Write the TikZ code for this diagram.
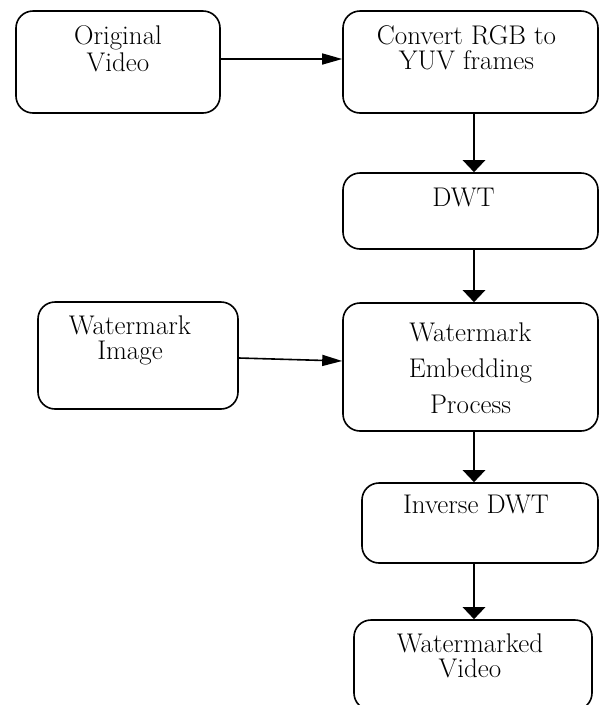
\documentclass[tikz,border=0pt]{standalone}
\usepackage{fontspec}
\usepackage{tikz}
\usetikzlibrary{arrows.meta}

\tikzset{
  blk/.style={draw, line width=1.6pt, rounded corners=17pt, inner sep=0pt},
  txt/.style={anchor=north, inner sep=0pt, align=center,
    font=\fontsize{27}{25}\selectfont},
  thinarr/.style={-{Triangle[length=20pt,width=11pt]}, line width=1.6pt},
  thickarr/.style={-{Triangle[length=12pt,width=22pt]}, line width=2.8pt},
}

\begin{document}
\begin{tikzpicture}[x=1pt,y=1pt]
  \useasboundingbox (0,0) rectangle (600,-705);

  \node (ov) [blk, minimum width=204pt, minimum height=102pt,
    label={[txt,yshift=-15.3pt,font=\fontsize{27}{27}\selectfont]north:Original\\Video}]
    at (118,-62) {};
  \node (cy) [blk, minimum width=255pt, minimum height=102pt,
    label={[txt,yshift=-15.3pt,xshift=-4pt]north:Convert RGB to\\YUV frames}]
    at (470.5,-62) {};
  \node (dwt) [blk, minimum width=255pt, minimum height=76pt,
    label={[txt,yshift=-15.6pt,xshift=-7pt]north:DWT}]
    at (470.5,-211) {};
  \node (wi) [blk, minimum width=200pt, minimum height=107pt,
    label={[txt,yshift=-14.3pt,xshift=-8pt]north:Watermark\\Image}]
    at (138,-355.5) {};
  \node (wep) [blk, minimum width=255pt, minimum height=128pt,
    label={[txt,yshift=-20.3pt,font=\fontsize{27}{36}\selectfont]north:Watermark\\Embedding\\Process}]
    at (470.5,-367) {};
  \node (idwt) [blk, minimum width=236pt, minimum height=80pt,
    label={[txt,yshift=-12.6pt,xshift=-4pt]north:Inverse DWT}]
    at (480,-523) {};
  \node (wv) [blk, minimum width=238pt, minimum height=90pt,
    label={[txt,yshift=-14.3pt,xshift=-3pt]north:Watermarked\\Video}]
    at (473,-665) {};

  \coordinate (ax) at (474,0);
  \draw[thinarr] ([yshift=3pt]ov.east) -- ([yshift=3pt]cy.west);
  \draw[thickarr] (cy.south -| ax) -- (dwt.north -| ax);
  \draw[thickarr] (dwt.south -| ax) -- (wep.north -| ax);
  \draw[thinarr] ([yshift=-2.5pt]wi.east) -- ([yshift=6pt]wep.west);
  \draw[thickarr] (wep.south -| ax) -- (idwt.north -| ax);
  \draw[thickarr] (idwt.south -| ax) -- (wv.north -| ax);
\end{tikzpicture}
\end{document}
